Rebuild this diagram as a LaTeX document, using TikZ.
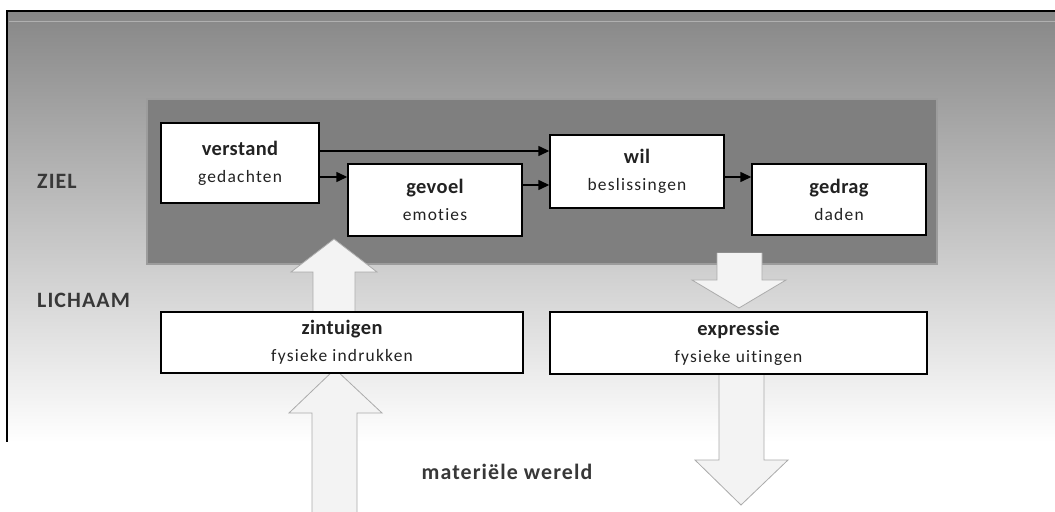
\documentclass[tikz,border=0pt]{standalone}
\usepackage{fontspec}
\setmainfont{Carlito}
\newfontfamily\subfont[LetterSpace=7,Ligatures=NoCommon]{Carlito}
\newfontfamily\titlefont[LetterSpace=2,Ligatures=NoCommon]{Carlito}
\newfontfamily\lblfont[LetterSpace=5,Ligatures=NoCommon]{Carlito}
\usetikzlibrary{arrows.meta,calc}
\definecolor{bgtop}{HTML}{878787}
\definecolor{panelc}{HTML}{7F7F7F}
\definecolor{panelb}{HTML}{9C9C9C}
\definecolor{arrfill}{HTML}{F3F3F3}
\definecolor{arrline}{HTML}{ABABAB}
\definecolor{txt}{HTML}{222222}
\newcommand{\ttl}[1]{{\titlefont\bfseries\fontsize{20.5}{27}\selectfont #1}}
\begin{document}
\begin{tikzpicture}[x=1bp,y=-1bp,
  box/.style={draw=black,line width=1.4bp,fill=white,inner sep=0pt,align=center,
    text=txt,font=\subfont\fontsize{17.5}{27}\selectfont},
  conn/.style={draw=black,line width=1.4bp,-{Triangle[length=11bp,width=10bp]}},
  blockarrow/.style={fill=arrfill,draw=arrline,line width=0.8bp,line join=miter},
  lbl/.style={font=\lblfont\bfseries\fontsize{22}{24}\selectfont,text=txt!90,inner sep=0pt}]
\useasboundingbox (0,0) rectangle (1055,512);
% background
\fill[white] (0,0) rectangle (1055,512);
\shade[top color=bgtop,bottom color=white] (7,11) rectangle (1055,442);
\draw[panelb!80,line width=0.8bp] (9,21) -- (1055,21);
\draw[black,line width=1.5bp] (1055,11) -- (7,11) -- (7,442);
% inner panel
\fill[panelc,draw=panelb,line width=2bp] (147,99) rectangle (937,264);
% block arrows
\draw[blockarrow] (312,512) -- (312,413) -- (289,413) -- (335,369) -- (382,413) -- (357,413) -- (357,512);
\draw[blockarrow] (313,320) -- (313,272) -- (291,272) -- (334,239) -- (377,272) -- (355,272) -- (355,320);
\draw[blockarrow] (717,253) -- (717,280) -- (692,280) -- (739,308) -- (786,280) -- (762,280) -- (762,253);
\draw[blockarrow] (719,365) -- (719,460) -- (695,460) -- (741,505) -- (788,460) -- (764,460) -- (764,365);
% boxes
\node[box,minimum width=158bp,minimum height=80bp] (verstand) at (240,163)
  {\ttl{verstand}\\gedachten};
\node[box,minimum width=174bp,minimum height=72bp] (gevoel) at (435,200)
  {\ttl{gevoel}\\emoties};
\node[box,minimum width=174bp,minimum height=73bp] (wil) at (637,171.5)
  {\ttl{wil}\\beslissingen};
\node[box,minimum width=174bp,minimum height=71bp] (gedrag) at (839,199.5)
  {\ttl{gedrag}\\daden};
\node[box,minimum width=362bp,minimum height=61bp] (zintuigen) at (342,342.5)
  {\ttl{zintuigen}\\fysieke indrukken};
\node[box,minimum width=377bp,minimum height=62bp] (expressie) at (738.5,343)
  {\ttl{expressie}\\fysieke uitingen};
% connectors
\coordinate (c1) at ($(verstand.east)+(0,-12)$);
\coordinate (c2) at ($(verstand.east)+(0,14)$);
\coordinate (c3) at ($(gevoel.east)+(0,-15)$);
\coordinate (c4) at ($(wil.east)+(0,5.5)$);
\draw[conn] (c1) -- (wil.west |- c1);
\draw[conn] (c2) -- (gevoel.west |- c2);
\draw[conn] (c3) -- (wil.west |- c3);
\draw[conn] (c4) -- (gedrag.west |- c4);
% labels
\node[lbl,anchor=west] (ziel) at (37,181) {ZIEL};
\node[lbl,anchor=west] (lichaam) at (37,300) {LICHAAM};
\node[lbl] (wereld) at (507,472) {materiële wereld};
\end{tikzpicture}
\end{document}
